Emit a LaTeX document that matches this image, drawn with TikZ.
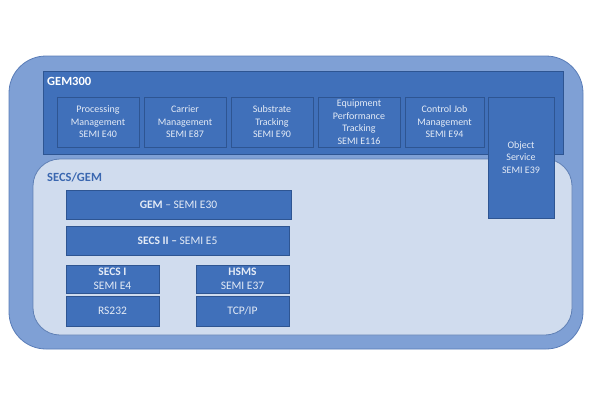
\documentclass[tikz,border=0pt]{standalone}
\usepackage{fontspec}
\setmainfont{Carlito}
\definecolor{outerfill}{HTML}{7FA0D5}
\definecolor{outerline}{HTML}{5A7DB8}
\definecolor{darkfill}{HTML}{4070BA}
\definecolor{darkline}{HTML}{2E5592}
\definecolor{innerfill}{HTML}{D0DCEE}
\definecolor{innerline}{HTML}{5F80B5}
\definecolor{boxtext}{HTML}{E4EBF6}
\definecolor{labelblue}{HTML}{3A67B0}
\newcommand\bx[7]{\node[#1, minimum width={#4-#2}, minimum height={#5-#3}] (#6) at ({(#2+#4)/2},{(#3+#5)/2}) {#7};}
\begin{document}
\begin{tikzpicture}[x=1pt,y=-1pt,
  outerbox/.style={fill=outerfill, draw=outerline, line width=0.8pt, rounded corners=37pt, inner sep=0pt},
  innerbox/.style={fill=innerfill, draw=innerline, line width=0.8pt, rounded corners=27pt, inner sep=0pt},
  groupbox/.style={fill=darkfill, draw=darkline, line width=0.6pt, inner sep=0pt},
  modbox/.style={fill=darkfill, draw=darkline, line width=0.6pt, inner sep=0pt, align=center, text=boxtext, font=\fontsize{10}{12.5}\selectfont},
  stackbox/.style={fill=darkfill, draw=darkline, line width=0.6pt, inner sep=0pt, align=center, text=boxtext, font=\fontsize{11.5}{14}\selectfont},
  grouplabel/.style={anchor=west, inner sep=0pt, font=\bfseries\fontsize{12.5}{14}\selectfont}
]
\useasboundingbox (0,0) rectangle (600,400);
\bx{outerbox}{9}{56}{583}{349}{outer}{}
\bx{groupbox}{43}{71}{563}{154}{gem300}{}
\node[grouplabel, text=white] (gem300label) at (47,81) {GEM300};
\bx{innerbox}{33}{159}{572}{335}{secsgem}{}
\node[grouplabel, text=labelblue] (secsgemlabel) at (47,177) {SECS/GEM};
\bx{modbox}{57}{97}{139}{147}{e40}{Processing\\Management\\SEMI E40}
\bx{modbox}{144}{97}{226}{147}{e87}{Carrier\\Management\\SEMI E87}
\bx{modbox}{231}{97}{313}{147}{e90}{Substrate\\Tracking\\SEMI E90}
\bx{modbox}{318}{97}{400}{147}{e116}{Equipment\\Performance\\Tracking\\SEMI E116}
\bx{modbox}{405}{97}{484}{147}{e94}{Control Job\\Management\\SEMI E94}
\bx{modbox}{488}{97}{554}{218}{e39}{Object\\Service\\SEMI E39}
\bx{stackbox}{66}{190}{291}{219}{e30}{\textbf{GEM} – SEMI E30}
\bx{stackbox}{66}{226}{289}{255}{e5}{\textbf{SECS II –} SEMI E5}
\bx{stackbox}{66}{265}{159}{293}{e4}{\textbf{SECS I}\\SEMI E4}
\bx{stackbox}{66}{296}{159}{326}{rs232}{RS232}
\bx{stackbox}{196}{265}{289}{293}{e37}{\textbf{HSMS}\\SEMI E37}
\bx{stackbox}{196}{296}{289}{326}{tcpip}{TCP/IP}
\end{tikzpicture}
\end{document}
